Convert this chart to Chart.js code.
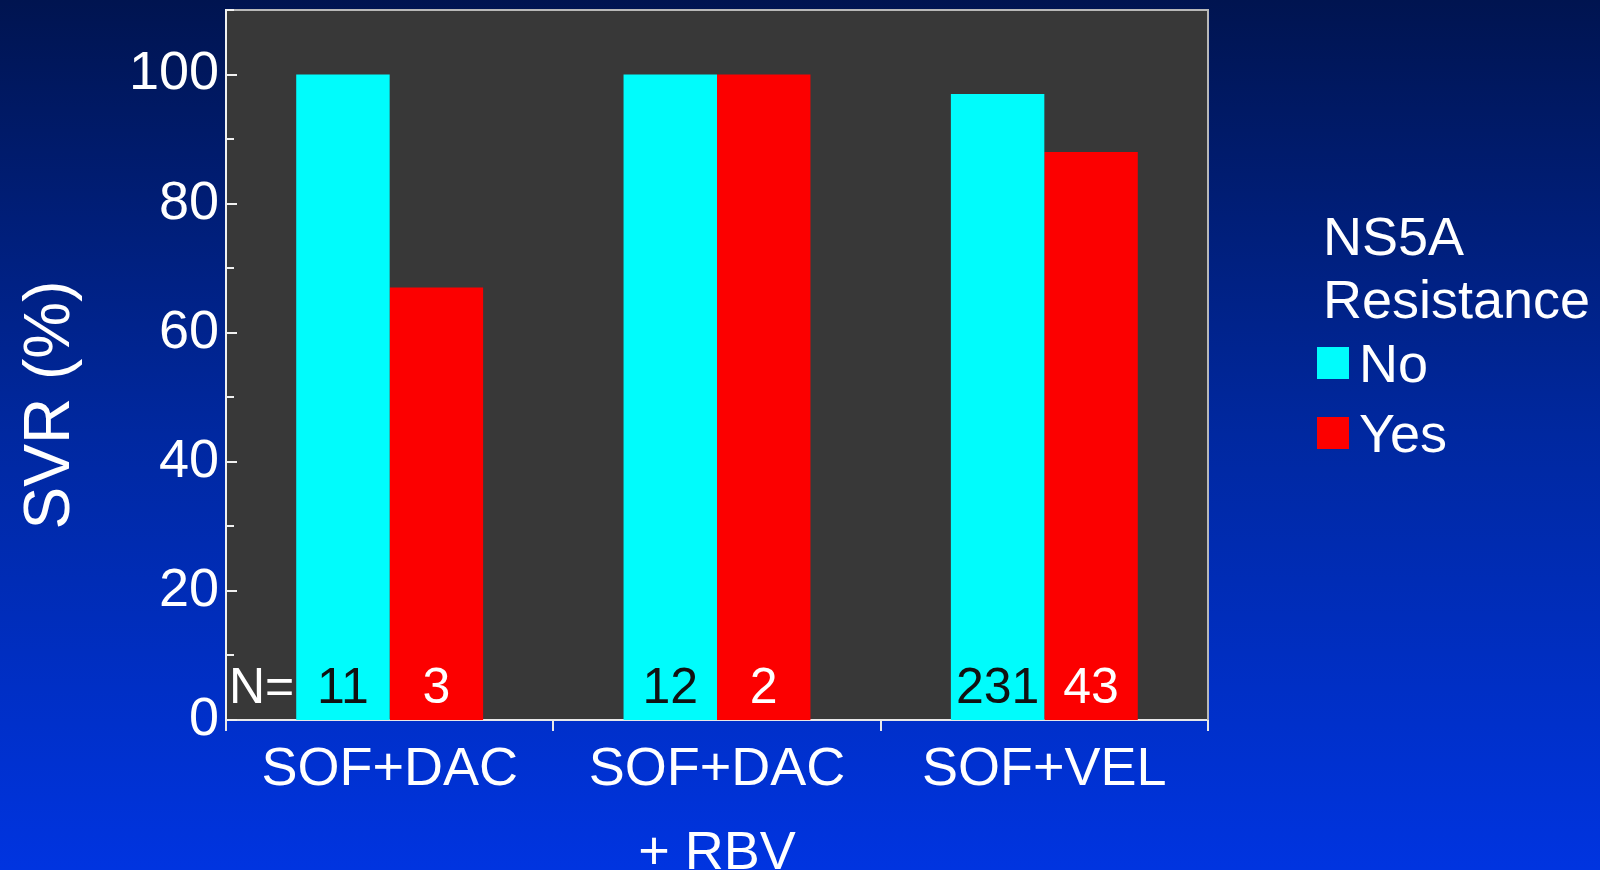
<!DOCTYPE html>
<html>
<head>
<meta charset="utf-8">
<title>SVR by NS5A resistance</title>
<script src="https://cdn.jsdelivr.net/npm/chart.js@4/dist/chart.umd.min.js"></script>
<style>
  html, body { margin: 0; padding: 0; }
  body {
    width: 1600px; height: 870px; overflow: hidden;
    background: linear-gradient(to bottom, #001450 0%, #0028a0 50%, #0034e0 100%);
  }
  canvas { display: block; }
</style>
</head>
<body>
<canvas id="chart" width="1600" height="870"></canvas>
<script>
// Regimens (second one wraps onto two lines)
const categories = ['SOF+DAC', ['SOF+DAC', '+ RBV'], 'SOF+VEL'];
// SVR (%) by baseline NS5A resistance
const svrNo = [100, 100, 97];
const svrYes = [67, 100, 88];
// Patients per bar
const nNo = [11, 12, 231];
const nYes = [3, 2, 43];
// Axis and legend text
const yTitle = 'SVR (%)';
const legendTitle = ['NS5A', 'Resistance'];
const seriesNames = ['No', 'Yes'];
const yTicks = [0, 20, 40, 60, 80, 100];

const FONT = "'Liberation Sans', Arial, sans-serif";
const CYAN = '#00fcfc';
const RED = '#fc0000';

// Plot panel, frame, inward y ticks, N counts, y title and legend
const decorations = {
  id: 'decorations',
  beforeDraw(chart) {
    const { ctx, chartArea: a } = chart;
    ctx.save();
    ctx.fillStyle = '#383838';
    ctx.fillRect(a.left, a.top, a.right - a.left, a.bottom - a.top);
    ctx.restore();
  },
  afterDraw(chart) {
    const { ctx, chartArea: a } = chart;
    const y = chart.scales.y;
    ctx.save();

    // top and right frame
    ctx.strokeStyle = '#b8b8b8';
    ctx.lineWidth = 2;
    ctx.beginPath();
    ctx.moveTo(a.left, a.top);
    ctx.lineTo(a.right, a.top);
    ctx.lineTo(a.right, a.bottom);
    ctx.stroke();

    // inward ticks on the value axis: long at labelled values, short between
    ctx.strokeStyle = '#f0f0f0';
    ctx.lineWidth = 2;
    for (let v = 0; v <= y.max; v += 10) {
      const py = Math.round(y.getPixelForValue(v));
      const len = (v % 20 === 0) ? 11 : 8;
      ctx.beginPath();
      ctx.moveTo(a.left, py);
      ctx.lineTo(a.left + len, py);
      ctx.stroke();
    }

    // N counts at the foot of each bar
    const base = y.getPixelForValue(0) - 17;
    ctx.font = '50px ' + FONT;
    ctx.textBaseline = 'alphabetic';
    ctx.textAlign = 'left';
    ctx.fillStyle = '#ffffff';
    ctx.fillText('N=', a.left + 3, base);
    ctx.textAlign = 'center';
    const metaNo = chart.getDatasetMeta(0).data;
    const metaYes = chart.getDatasetMeta(1).data;
    nNo.forEach((n, i) => {
      ctx.fillStyle = '#111111';
      ctx.fillText(String(n), metaNo[i].x, base);
    });
    nYes.forEach((n, i) => {
      ctx.fillStyle = '#ffffff';
      ctx.fillText(String(n), metaYes[i].x, base);
    });

    // y axis title, rotated
    ctx.fillStyle = '#ffffff';
    ctx.font = '64px ' + FONT;
    ctx.translate(69, 405);
    ctx.rotate(-Math.PI / 2);
    ctx.textAlign = 'center';
    ctx.fillText(yTitle, 0, 0);
    ctx.setTransform(1, 0, 0, 1, 0, 0);

    // legend
    ctx.font = '54px ' + FONT;
    ctx.textAlign = 'left';
    ctx.fillStyle = '#ffffff';
    ctx.fillText(legendTitle[0], 1323, 255);
    ctx.fillText(legendTitle[1], 1323, 318);
    chart.data.datasets.forEach((ds, i) => {
      const top = 347 + i * 70;
      ctx.fillStyle = ds.backgroundColor;
      ctx.fillRect(1317, top, 32, 32);
      ctx.fillStyle = '#ffffff';
      ctx.fillText(ds.label, 1359, top + 35);
    });

    ctx.restore();
  }
};

new Chart(document.getElementById('chart'), {
  type: 'bar',
  data: {
    labels: categories,
    datasets: [
      { label: seriesNames[0], data: svrNo, backgroundColor: CYAN, borderWidth: 0 },
      { label: seriesNames[1], data: svrYes, backgroundColor: RED, borderWidth: 0 }
    ]
  },
  options: {
    responsive: false,
    animation: false,
    devicePixelRatio: 1,
    layout: { padding: { left: 0, right: 392, top: 10, bottom: 0 } },
    datasets: { bar: { categoryPercentage: 0.571, barPercentage: 1.0 } },
    plugins: {
      legend: { display: false },
      tooltip: { enabled: false }
    },
    scales: {
      x: {
        afterFit(scale) {
          scale.height = 150;
          scale.paddingLeft = 0;
          scale.paddingRight = 0;
        },
        grid: {
          display: true,
          drawOnChartArea: false,
          drawTicks: true,
          tickLength: 11,
          color: '#e8e8e8',
          lineWidth: 2,
          offset: true
        },
        border: { display: true, color: '#e8e8e8', width: 2 },
        ticks: {
          color: '#ffffff',
          font: { family: FONT, size: 54, lineHeight: 1.54 },
          padding: -2,
          maxRotation: 0,
          autoSkip: false
        }
      },
      y: {
        min: 0,
        max: 110,
        afterFit(scale) {
          scale.width = 226;
          scale.paddingTop = 0;
          scale.paddingBottom = 0;
        },
        afterBuildTicks(scale) { scale.ticks = yTicks.map(v => ({ value: v })); },
        grid: { display: false, drawTicks: false },
        border: { display: true, color: '#f0f0f0', width: 2 },
        ticks: {
          color: '#ffffff',
          font: { family: FONT, size: 54 },
          padding: 7
        },
        title: { display: false }
      }
    }
  },
  plugins: [decorations]
});
</script>
</body>
</html>
